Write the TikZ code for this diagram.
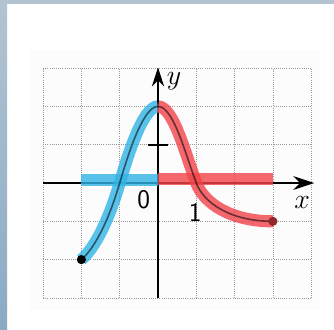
\documentclass[tikz,border=0pt]{standalone}
\usepackage{tikz}
\usetikzlibrary{arrows.meta,positioning,calc}
\definecolor{frametop}{HTML}{B2C4D2}
\definecolor{frameleft}{HTML}{8AAAC4}
\definecolor{risecolor}{HTML}{31B4E6}
\definecolor{fallcolor}{HTML}{F2434A}
\newlength{\GraphUnit}
\setlength{\GraphUnit}{1cm}
\newcommand{\GraphLabelFont}{\fontsize{20pt}{24pt}\selectfont}

\begin{document}
\begin{tikzpicture}[x=\GraphUnit,y=\GraphUnit]
    \tikzset{
        graph grid/.style={draw=black!40, densely dotted, line width=0.6pt},
        graph axis/.style={-{Stealth[length=5.5mm,width=3.6mm]}, line width=1.5pt,
            draw=black},
        graph curve/.style={draw=black, opacity=0.55, line width=1.2pt, line cap=round},
        rise band/.style={draw=risecolor, opacity=0.8, line width=9pt},
        fall band/.style={draw=fallcolor, opacity=0.8, line width=9pt},
        graph label/.style={font=\GraphLabelFont, inner sep=1pt},
        end dot/.style={circle, fill=black, inner sep=0pt, minimum size=2.4mm}
    }
    \useasboundingbox (-4.125,-3.812) rectangle (4.595,4.778);
    % frame and paper
    \fill[white] (-4.125,-3.812) rectangle (4.595,4.778);
    \fill[frametop] (-4.125,4.674) rectangle (4.595,4.778);
    \shade[top color=frametop, bottom color=frameleft]
        (-4.125,-3.812) rectangle (-3.942,4.778);
    \fill[black!1] (-3.34,-3.32) rectangle (4.23,3.47);

    \draw[graph grid] (-3,-3) grid (4,3);

    \coordinate (x-axis-start) at (-3,0);
    \coordinate (x-axis-end) at (4.08,0);
    \coordinate (y-axis-start) at (0,-3);
    \coordinate (y-axis-end) at (0,3.02);
    \draw[graph axis] (x-axis-start) -- (x-axis-end);
    \draw[graph axis, -{Stealth[length=5mm,width=3.2mm]}] (y-axis-start) -- (y-axis-end);
    \coordinate (y-tick-west) at (-0.27,1);
    \coordinate (y-tick-east) at (0.27,1);
    \draw[line width=1.5pt] (y-tick-west) -- (y-tick-east);

    % the two pieces of the function
    \coordinate (rise-start) at (-2,-2);
    \coordinate (rise-zero) at (-1,0);
    \coordinate (peak) at (0,2);
    \coordinate (fall-zero) at (1,0);
    \coordinate (fall-end) at (3,-1);

    \coordinate (rise-band-west) at (-2,0.07);
    \coordinate (rise-band-east) at (0,0.07);
    \coordinate (fall-band-west) at (0,0.1);
    \coordinate (fall-band-east) at (3,0.1);
    \draw[rise band] (rise-band-west) -- (rise-band-east);
    \draw[fall band] (fall-band-west) -- (fall-band-east);
    \draw[rise band] (rise-start) .. controls (-1.6,-1.65) and (-1.25,-0.85) .. (rise-zero)
        .. controls (-0.8,0.68) and (-0.4,2) .. (peak);
    \draw[fall band] (peak) .. controls (0.4,2) and (0.7,0.8) .. (fall-zero)
        .. controls (1.2,-0.53) and (1.9,-1) .. (fall-end);
    \draw[graph curve] (rise-start) .. controls (-1.6,-1.65) and (-1.25,-0.85) .. (rise-zero)
        .. controls (-0.8,0.68) and (-0.4,2) .. (peak);
    \draw[graph curve] (peak) .. controls (0.4,2) and (0.7,0.8) .. (fall-zero)
        .. controls (1.2,-0.53) and (1.9,-1) .. (fall-end);

    \node[end dot] (rise-dot) at (rise-start) {};
    \node[end dot, fill=fallcolor!60!black] (fall-dot) at (fall-end) {};

    \node[graph label] (y-label) at (0.42,2.66) {$y$};
    \node[graph label, font=\fontsize{22pt}{26pt}\selectfont] (x-label) at (3.76,-0.5) {$x$};
    \node[graph label, font=\GraphLabelFont\sffamily] (origin-label) at (-0.37,-0.44) {0};
    \node[graph label, font=\GraphLabelFont\sffamily] (one-label) at (0.97,-0.78) {1};
\end{tikzpicture}
\end{document}
